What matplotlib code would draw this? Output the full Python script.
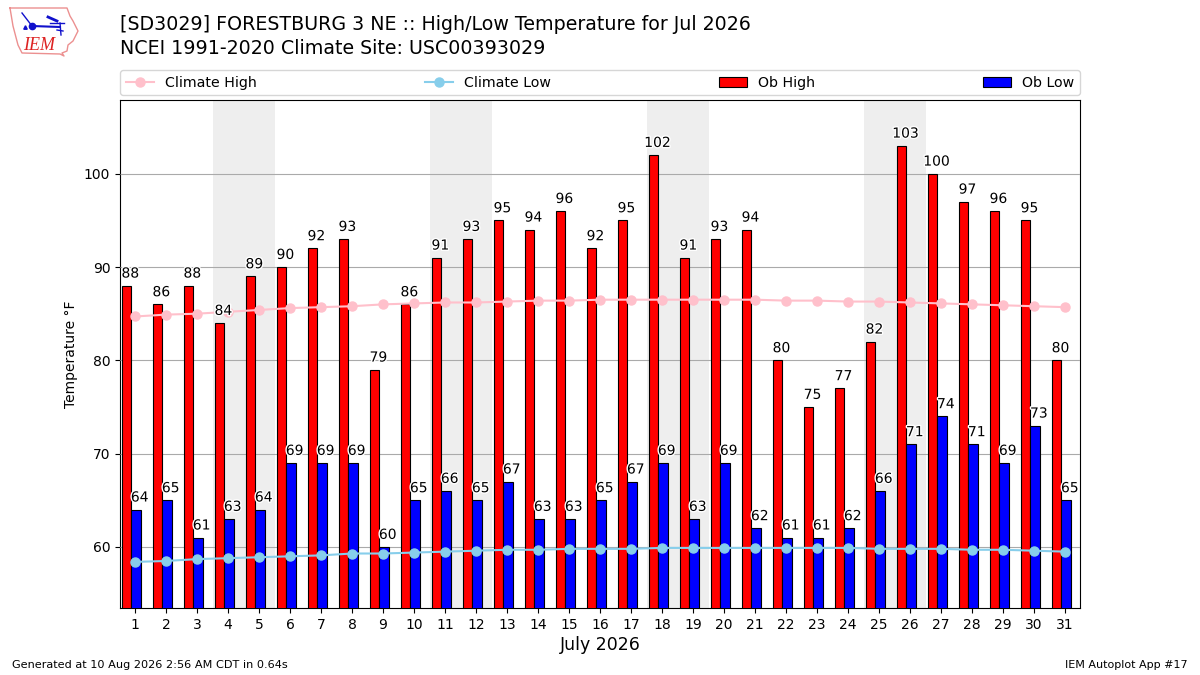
import matplotlib
matplotlib.use('Agg')
import matplotlib.pyplot as plt
import matplotlib.patheffects as pe

# Datos
dias = list(range(1, 32))
ob_high = [88, 86, 88, 84, 89, 90, 92, 93, 79, 86, 91, 93, 95, 94, 96, 92,
           95, 102, 91, 93, 94, 80, 75, 77, 82, 103, 100, 97, 96, 95, 80]
ob_low = [64, 65, 61, 63, 64, 69, 69, 69, 60, 65, 66, 65, 67, 63, 63, 65,
          67, 69, 63, 69, 62, 61, 61, 62, 66, 71, 74, 71, 69, 73, 65]
climate_high = [84.7, 84.9, 85.0, 85.2, 85.4, 85.6, 85.7, 85.8, 86.0, 86.1, 86.2,
                86.2, 86.3, 86.4, 86.4, 86.5, 86.5, 86.5, 86.5, 86.5, 86.5, 86.4,
                86.4, 86.3, 86.3, 86.2, 86.1, 86.0, 85.9, 85.8, 85.7]
climate_low = [58.4, 58.5, 58.7, 58.8, 58.9, 59.0, 59.1, 59.3, 59.3, 59.4, 59.5,
               59.6, 59.7, 59.7, 59.8, 59.8, 59.8, 59.9, 59.9, 59.9, 59.9, 59.9,
               59.9, 59.9, 59.8, 59.8, 59.8, 59.7, 59.7, 59.6, 59.5]
fines_semana = [(3.5, 5.5), (10.5, 12.5), (17.5, 19.5), (24.5, 26.5)]
y_ticks = [60, 70, 80, 90, 100]

W, H = 1200, 675
fig = plt.figure(figsize=(12, 6.75), dpi=100)
ax = fig.add_axes([120 / W, 1 - 608 / H, 960 / W, 508 / H])

# Fines de semana
for ini, fin in fines_semana:
    ax.axvspan(ini, fin, color='#eeeeee', zorder=1, lw=0)

ax.grid(axis='y', color='#aaaaaa', lw=0.8, zorder=4)
ax.set_axisbelow(False)

x_high = [d - 0.27 for d in dias]
x_low = [d + 0.03 for d in dias]
ax.bar(x_high, ob_high, width=0.3, color='red', edgecolor='black', lw=0.8,
       label='Ob High', zorder=3)
ax.bar(x_low, ob_low, width=0.3, color='blue', edgecolor='black', lw=0.8,
       label='Ob Low', zorder=3)
ax.plot(dias, climate_high, color='pink', marker='o', ms=6.5, lw=1.5,
        label='Climate High', zorder=5)
ax.plot(dias, climate_low, color='skyblue', marker='o', ms=6.5, lw=1.5,
        label='Climate Low', zorder=5)

# Etiquetas de los valores
borde = [pe.withStroke(linewidth=2, foreground='white')]
for i in range(len(dias)):
    ax.text(x_high[i] + 0.12, ob_high[i] + 0.55, str(ob_high[i]), ha='center',
            va='bottom', fontsize=10, zorder=6, path_effects=borde)
    ax.text(x_low[i] + 0.12, ob_low[i] + 0.55, str(ob_low[i]), ha='center',
            va='bottom', fontsize=10, zorder=6, path_effects=borde)

ax.set_xlim(0.516, 31.48)
ax.set_ylim(53.46, 107.9)
ax.set_xticks(dias)
ax.set_yticks(y_ticks)
ax.tick_params(axis='both', labelsize=10)
ax.set_xlabel('July 2026', fontsize=12.5, labelpad=3)
ax.set_ylabel('Temperature °F', fontsize=10)

h, l = ax.get_legend_handles_labels()
orden = [l.index(n) for n in ['Climate High', 'Climate Low', 'Ob High', 'Ob Low']]
ax.legend([h[i] for i in orden], [l[i] for i in orden], loc='lower left',
          bbox_to_anchor=(0, 1.0095, 1, 0.05), mode='expand', ncol=4,
          borderaxespad=0, fontsize=10.15)

fig.text(120 / W, 1 - 25 / H, '[SD3029] FORESTBURG 3 NE :: High/Low Temperature for Jul 2026',
         fontsize=13.65, va='center')
fig.text(120 / W, 1 - 48 / H, 'NCEI 1991-2020 Climate Site: USC00393029',
         fontsize=13.65, va='center')
fig.text(12 / W, 1 - 665 / H, 'Generated at 10 Aug 2026 2:56 AM CDT in 0.64s',
         fontsize=8.15, va='center')
fig.text(1188 / W, 1 - 665 / H, 'IEM Autoplot App #17', fontsize=8, va='center', ha='right')

# Logo del IEM dibujado a mano, en pixeles de la figura
logo = fig.add_axes([0, 1 - 60 / H, 85 / W, 60 / H])
logo.set_xlim(0, 85)
logo.set_ylim(60, 0)
logo.axis('off')
contorno_x = [10, 67, 70, 73, 78, 73, 68, 67, 62, 64, 60, 22, 18, 13, 10]
contorno_y = [8, 8, 16, 21, 31, 41, 45, 51, 53, 56, 54, 53, 45, 26, 8]
logo.plot(contorno_x, contorno_y, color='#ec9090', lw=1)
logo.plot([32, 60], [26, 27], color='#1010cc', lw=1.5)
logo.plot([22, 32], [13, 26], color='#1010cc', lw=1)
logo.plot([32], [26], 'o', color='#1010cc', ms=4.5)
logo.plot([25], [27], '^', color='#1010cc', ms=2.5)
logo.plot([48, 57], [17, 21], color='#1010cc', lw=2)
logo.plot([50, 64], [23, 23], color='#1010cc', lw=1)
logo.plot([60, 61], [23, 35], color='#1010cc', lw=1)
logo.plot([57, 63], [30, 31], color='#1010cc', lw=1)
logo.text(23, 45, 'IEM', color='#dd2222', fontsize=13, style='italic',
          family='Liberation Serif', va='center')

plt.savefig('out.png', dpi=100)
